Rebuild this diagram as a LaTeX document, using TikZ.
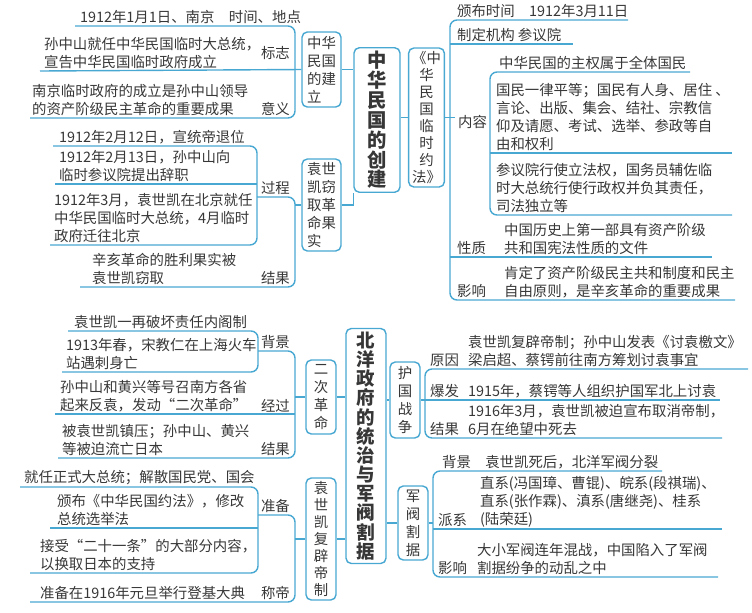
\documentclass[tikz,border=0pt]{standalone}
\usepackage{fontspec}
\setmainfont{Noto Sans CJK SC}
\usetikzlibrary{positioning}
\definecolor{lblue}{RGB}{72,168,210}
\definecolor{tgray}{RGB}{55,55,55}
\newcommand{\cnfont}{\fontsize{8.2pt}{10.2pt}\selectfont}
\newcommand{\bigfont}{\fontsize{11pt}{11.3pt}\selectfont\bfseries}
\tikzset{
	ln/.style={draw=lblue, line width=0.8pt},
	txt/.style={text=tgray, font=\cnfont, align=left, inner sep=1pt},
	vbox/.style={draw=lblue, line width=0.8pt, rounded corners=3pt, fill=white, text=tgray, font=\cnfont, align=center, inner sep=2pt},
	mbox/.style={vbox, font=\bigfont}
}

\begin{document}
\begin{tikzpicture}[x=0.02cm, y=-0.02cm]
	\useasboundingbox (0,0) rectangle (752,613);
	% upper half: boxes
	\node [mbox, minimum width=0.92cm, minimum height=2.8cm] (cj) at (377,120) {中\\华\\民\\国\\的\\创\\建};
	\node [vbox, align=left, minimum width=0.78cm, minimum height=1.5cm] (jl) at (321.5,69.5) {中华\\民国\\的建\\立};
	\node [vbox, align=left, minimum width=0.78cm, minimum height=1.8cm] (qq) at (321.5,205) {袁世\\凯窃\\取革\\命果\\实};
	\node [vbox, minimum width=0.66cm, minimum height=2.78cm, font=\fontsize{8.2pt}{9.6pt}\selectfont] (yf) at (426.5,117.5) {《中\\华\\民\\国\\临\\时\\约\\法》};
	\draw [ln] (jl.east) -- (jl.east -| cj.west);
	\draw [ln] (qq.east) -| (cj.south west);
	\draw [ln] (cj.east |- yf.west) -- (yf.west);
	% 中华民国的建立
	\draw [ln, rounded corners=4pt] (75,26) -- (295,26) -- (295,118) -- (30,118);
	\draw [ln] (40,71) -- (jl.west);
	\node [txt, anchor=south west] (t1) at (78,26) {1912年1月1日、南京\quad 时间、地点};
	\node [txt, anchor=south west] (t2) at (42,71) {孙中山就任中华民国临时大总统，\\宣告中华民国临时政府成立};
	\node [txt, anchor=east] (l2) at (292,53) {标志};
	\node [txt, anchor=south west] (t3) at (30,118) {南京临时政府的成立是孙中山领导\\的资产阶级民主革命的重要成果};
	\node [txt, anchor=south east] (l3) at (292,118) {意义};
	% 袁世凯窃取革命果实
	\draw [ln, rounded corners=4pt] (257,197) -- (295,197) -- (295,287) -- (80,287);
	\draw [ln] (295,205) -- (qq.west);
	\draw [ln, rounded corners=4pt] (53,146) -- (257,146) -- (257,245) -- (50,245);
	\draw [ln] (55,184) -- (257,184);
	\node [txt, anchor=south west] (t4) at (57,146) {1912年2月12日，宣统帝退位};
	\node [txt, anchor=south west] (t5) at (57,184) {1912年2月13日，孙中山向\\临时参议院提出辞职};
	\node [txt, anchor=south west] (t6) at (52,245) {1912年3月，袁世凯在北京就任\\中华民国临时大总统，4月临时\\政府迁往北京};
	\node [txt, anchor=south east] (l4) at (292,197) {过程};
	\node [txt, anchor=south west] (t7) at (90,287) {辛亥革命的胜利果实被\\袁世凯窃取};
	\node [txt, anchor=south east] (l7) at (292,287) {结果};
	% 临时约法
	\draw [ln, rounded corners=4pt] (628,20) -- (450,20) -- (450,300) -- (735,300);
	\draw [ln] (yf.east) -- (455,117.5);
	\draw [ln] (450,44) -- (573,44);
	\draw [ln, rounded corners=4pt] (690,72) -- (490,72) -- (490,215) -- (732,215);
	\draw [ln] (490,153) -- (732,153);
	\draw [ln] (450,257) -- (712,257);
	\node [txt, anchor=south west] (t8) at (455,20) {颁布时间\quad 1912年3月11日};
	\node [txt, anchor=south west] (t9) at (455,44) {制定机构\ 参议院};
	\node [txt, anchor=west] (l10) at (456,122) {内容};
	\node [txt, anchor=south west] (t10) at (497,72) {中华民国的主权属于全体国民};
	\node [txt, anchor=south west] (t11) at (494,153) {国民一律平等；国民有人身、居住 、\\言论、出版、集会、结社、宗教信\\仰及请愿、考试、选举、参政等自\\由和权利};
	\node [txt, anchor=south west] (t12) at (494,215) {参议院行使立法权，国务员辅佐临\\时大总统行使行政权并负其责任，\\司法独立等};
	\node [txt, anchor=south west] (l13) at (455,257) {性质};
	\node [txt, anchor=south west] (t13) at (502,257) {中国历史上第一部具有资产阶级\\共和国宪法性质的文件};
	\node [txt, anchor=south west] (l14) at (455,300) {影响};
	\node [txt, anchor=south west] (t14) at (502,300) {肯定了资产阶级民主共和制度和民主\\自由原则，是辛亥革命的重要成果};
	% lower half: boxes
	\node [mbox, minimum width=0.8cm, minimum height=4.28cm, font=\fontsize{10.5pt}{10.9pt}\selectfont\bfseries] (by) at (366,446) {北\\洋\\政\\府\\的\\统\\治\\与\\军\\阀\\割\\据};
	\node [vbox, minimum width=0.6cm, minimum height=1.48cm] (ec) at (321,397) {二\\次\\革\\命};
	\node [vbox, minimum width=0.6cm, minimum height=2.44cm, font=\fontsize{8.2pt}{9.6pt}\selectfont] (fb) at (321,539) {袁\\世\\凯\\复\\辟\\帝\\制};
	\node [vbox, minimum width=0.6cm, minimum height=1.52cm] (hg) at (405,400) {护\\国\\战\\争};
	\node [vbox, minimum width=0.6cm, minimum height=1.48cm] (jf) at (413,523) {军\\阀\\割\\据};
	\draw [ln] (ec.east) -- (ec.east -| by.west);
	\draw [ln] (fb.east) -- (fb.east -| by.west);
	\draw [ln] (by.east |- hg.west) -- (hg.west);
	\draw [ln] (by.east |- jf.west) -- (jf.west);
	% 二次革命
	\draw [ln, rounded corners=4pt] (258,351) -- (295,351) -- (295,458) -- (58,458);
	\draw [ln] (295,397) -- (ec.west);
	\draw [ln] (55,414) -- (295,414);
	\draw [ln, rounded corners=4pt] (68,331) -- (258,331) -- (258,372) -- (62,372);
	\node [txt, anchor=south west] (t15) at (72,331) {袁世凯一再破坏责任内阁制};
	\node [txt, anchor=south west] (t16) at (64,372) {1913年春，宋教仁在上海火车\\站遇刺身亡};
	\node [txt, anchor=south east] (l16) at (292,351) {背景};
	\node [txt, anchor=south west] (t17) at (58,414) {孙中山和黄兴等号召南方各省\\起来反袁，发动“二次革命”};
	\node [txt, anchor=south east] (l17) at (292,414) {经过};
	\node [txt, anchor=south west] (t18) at (60,458) {被袁世凯镇压；孙中山、黄兴\\等被迫流亡日本};
	\node [txt, anchor=south east] (l18) at (292,458) {结果};
	% 袁世凯复辟帝制
	\draw [ln, rounded corners=4pt] (258,515) -- (295,515) -- (295,602) -- (30,602);
	\draw [ln] (295,539) -- (fb.west);
	\draw [ln, rounded corners=4pt] (20,487) -- (258,487) -- (258,573) -- (30,573);
	\draw [ln] (50,528) -- (258,528);
	\node [txt, anchor=south west] (t19) at (22,487) {就任正式大总统；解散国民党、国会};
	\node [txt, anchor=south west] (t20) at (55,528) {颁布《中华民国约法》，修改\\总统选举法};
	\node [txt, anchor=south west] (t21) at (38,573) {接受“二十一条”的大部分内容，\\以换取日本的支持};
	\node [txt, anchor=south east] (l21) at (292,515) {准备};
	\node [txt, anchor=south west] (t22) at (38,602) {准备在1916年元旦举行登基大典};
	\node [txt, anchor=south east] (l22) at (292,602) {称帝};
	% 护国战争
	\draw [ln, rounded corners=4pt] (748,369) -- (425,369) -- (425,438) -- (722,438);
	\draw [ln] (hg.east) -- (720,400);
	\node [txt, anchor=south west] (l23) at (428,369) {原因};
	\node [txt, anchor=south west] (t23) at (466,369) {袁世凯复辟帝制；孙中山发表《讨袁檄文》\\梁启超、蔡锷前往南方筹划讨袁事宜};
	\node [txt, anchor=south west] (l24) at (428,400) {爆发};
	\node [txt, anchor=south west] (t24) at (466,400) {1915年，蔡锷等人组织护国军北上讨袁};
	\node [txt, anchor=south west] (l25) at (428,438) {结果};
	\node [txt, anchor=south west] (t25) at (466,438) {1916年3月，袁世凯被迫宣布取消帝制，\\6月在绝望中死去};
	% 军阀割据
	\draw [ln, rounded corners=4pt] (662,471) -- (433,471) -- (433,577) -- (718,577);
	\draw [ln] (jf.east) -- (433,523);
	\draw [ln] (433,529) -- (722,529);
	\node [txt, anchor=south west] (t26) at (440,471) {背景\quad 袁世凯死后，北洋军阀分裂};
	\node [txt, anchor=south west] (l27) at (436,529) {派系};
	\node [txt, anchor=south west] (t27) at (478,529) {直系(冯国璋、曹锟)、皖系(段祺瑞)、\\直系(张作霖)、滇系(唐继尧)、桂系\\(陆荣廷)};
	\node [txt, anchor=south west] (l28) at (436,577) {影响};
	\node [txt, anchor=south west] (t28) at (475,577) {大小军阀连年混战，中国陷入了军阀\\割据纷争的动乱之中};
\end{tikzpicture}
\end{document}
